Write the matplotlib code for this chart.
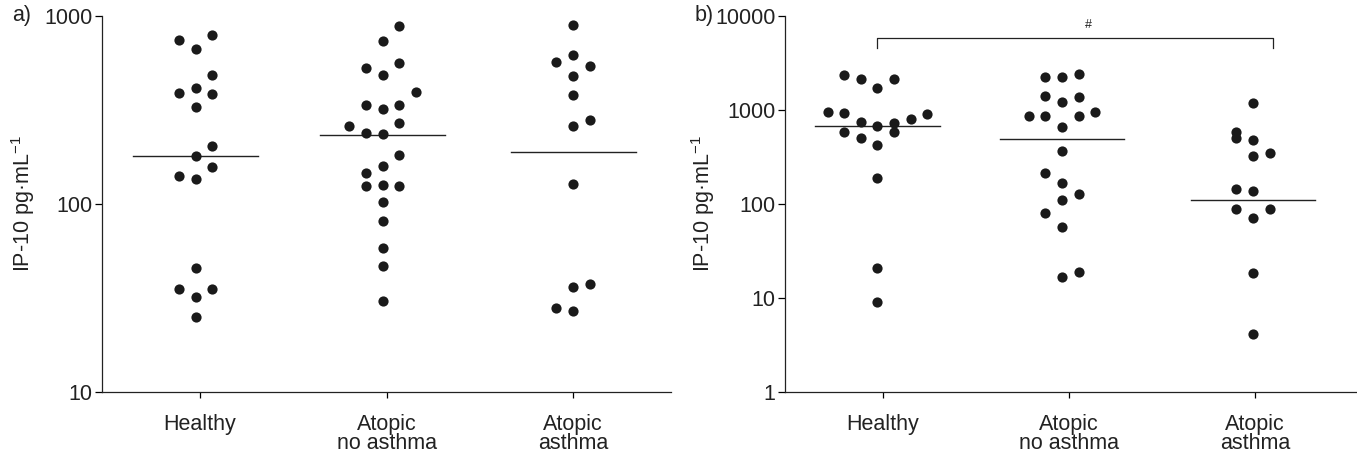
import matplotlib
matplotlib.use("Agg")
import matplotlib.pyplot as plt
from matplotlib.ticker import FixedLocator, FuncFormatter, NullLocator


groups = ["Healthy", "Atopic\nno asthma", "Atopic\nasthma"]

# panel a) IP-10, pg/mL
a_healthy = [745, 667, 796, 487, 391, 416, 386, 327, 204, 179, 158, 141, 136,
             45.8, 35.2, 35.2, 32.1, 25.2]
a_no_asthma = [889, 736, 531, 565, 487, 396, 338, 321, 338, 261, 240, 236, 268,
               182, 160, 146, 124, 126, 124, 102, 81.5, 58.6, 47.0, 30.6]
a_asthma = [899, 623, 571, 544, 480, 382, 281, 259, 128, 37.7, 36.3, 28.1, 27.0]
a_medians = [179, 234, 189]

# panel b) IP-10, pg/mL
b_healthy = [2375, 2120, 1728, 2155, 952, 937, 751, 681, 733, 809, 914, 583,
             500, 583, 428, 191, 21.0, 9.1]
b_no_asthma = [2263, 2263, 2436, 1421, 1227, 1386, 863, 863, 863, 952, 665,
               370, 215, 169, 127, 109, 79.7, 57.4, 16.6, 19.1]
b_asthma = [1197, 589, 500, 483, 322, 351, 143, 139, 88.5, 88.5, 71.0, 18.6, 4.1]
b_medians = [681, 491, 109]

# swarm column of each dot (layout only)
a_cols = [
    [-1, 0, 1, 1, -1, 0, 1, 0, 1, 0, 1, -1, 0, 0, -1, 1, 0, 0],
    [1, 0, -1, 1, 0, 2, -1, 0, 1, -2, -1, 0, 1, 1, 0, -1, -1, 0, 1, 0, 0, 0, 0, 0],
    [0, 0, -1, 1, 0, 0, 1, 0, 0, 1, 0, -1, 0],
]
b_cols = [
    [-2, -1, 0, 1, -3, -2, -1, 0, 1, 2, 3, -2, -1, 1, 0, 0, 0, 0],
    [-1, 0, 1, -1, 0, 1, -2, -1, 1, 2, 0, 0, -1, 0, 1, 0, -1, 0, 0, 1],
    [0, -1, -1, 0, 0, 1, -1, 0, -1, 1, 0, 0, 0],
]
a_shift = [-0.023, -0.021, 0.0]
b_shift = [-0.03, -0.037, -0.01]

STEP = 0.0894
HALF = 0.335
DOT = "#1a1a1a"
FS = 15.5

plt.rcParams.update({
    "font.family": ["Liberation Sans", "DejaVu Sans"],
    "font.size": FS,
    "text.color": "#222222",
    "axes.labelcolor": "#222222",
    "xtick.labelcolor": "#222222",
    "ytick.labelcolor": "#222222",
    "axes.edgecolor": "#222222",
    "axes.linewidth": 0.9,
    "xtick.major.width": 0.9,
    "ytick.major.width": 0.9,
    "xtick.major.size": 4.5,
    "ytick.major.size": 5,
    "mathtext.default": "regular",
})


def draw_panel(ax, data, cols, shifts, medians, ylim, yticks, xlim):
    for i, (vals, cc) in enumerate(zip(data, cols)):
        c = i + 1 + shifts[i]
        xs = [c + k * STEP for k in cc]
        ax.scatter(xs, vals, s=54, color=DOT, linewidths=0, zorder=3)
        ax.plot([c - HALF, c + HALF], [medians[i]] * 2, color="#222222", lw=1.0, zorder=2)

    ax.set_yscale("log")
    ax.set_ylim(*ylim)
    ax.set_xlim(*xlim)
    ax.yaxis.set_major_locator(FixedLocator(yticks))
    ax.yaxis.set_minor_locator(NullLocator())
    ax.yaxis.set_major_formatter(FuncFormatter(lambda v, p: f"{v:g}"))
    ax.set_xticks([1, 2, 3])
    ax.set_xticklabels(groups, linespacing=0.88)
    ax.tick_params(axis="x", pad=11)
    ax.tick_params(axis="y", pad=2)
    for s in ("top", "right"):
        ax.spines[s].set_visible(False)
    ax.set_ylabel("IP-10 pg·mL$^{-1}$")
    ax.yaxis.label.set_va("center")


fig = plt.figure(figsize=(13.57, 4.53), dpi=100)
bottom, top = 0.1347, 0.9647
ax_a = fig.add_axes([0.0752, bottom, 0.4193, top - bottom])
ax_b = fig.add_axes([0.5785, bottom, 0.4215, top - bottom])

draw_panel(ax_a, [a_healthy, a_no_asthma, a_asthma], a_cols, a_shift, a_medians,
           (10, 1000), [10, 100, 1000], (0.475, 3.525))
draw_panel(ax_b, [b_healthy, b_no_asthma, b_asthma], b_cols, b_shift, b_medians,
           (1, 10000), [1, 10, 100, 1000, 10000], (0.473, 3.55))

ax_a.yaxis.set_label_coords(-0.139, 0.5)
ax_b.yaxis.set_label_coords(-0.144, 0.5)

# significance bracket in panel b
bx0, bx1 = 0.968, 3.10
ytop, yend = 5875, 4571
ax_b.plot([bx0, bx0, bx1, bx1], [yend, ytop, ytop, yend], color="#222222", lw=0.9,
          clip_on=False)
ax_b.text(2.107, 8000, "#", ha="center", va="center", fontsize=9)

fig.text(12 / 1357, top, "a)", ha="left", va="center", fontsize=FS)
fig.text(695 / 1357, top, "b)", ha="left", va="center", fontsize=FS)

fig.savefig("out.png", dpi=100)
